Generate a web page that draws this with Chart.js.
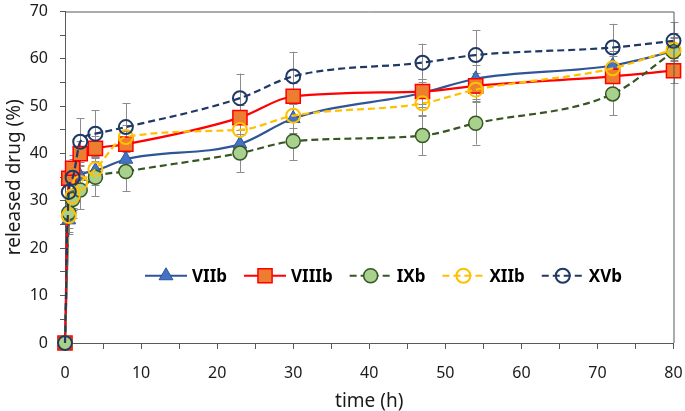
<!DOCTYPE html>
<html>
<head>
<meta charset="utf-8">
<script src="https://cdn.jsdelivr.net/npm/chart.js@4.4.1/dist/chart.umd.min.js"></script>
<style>
  html, body { margin: 0; padding: 0; background: #fff; }
  #wrap { width: 685px; height: 411px; }
</style>
</head>
<body>
<div id="wrap"><canvas id="releaseChart"></canvas></div>
<script>
// sampling times (h)
const timeH = [0, 0.5, 1, 2, 4, 8, 23, 30, 47, 54, 72, 80];

// released drug (%)
const releaseVIIb  = [0, 26.0, 31.0, 35.2, 36.4, 38.8, 42.0, 47.4, 52.8, 55.8, 58.6, 61.6];
const releaseVIIIb = [0, 34.8, 36.9, 40.0, 41.1, 42.0, 47.6, 52.1, 53.1, 54.3, 56.3, 57.5];
const releaseIXb   = [0, 27.5, 30.3, 32.3, 35.0, 36.2, 40.1, 42.6, 43.8, 46.4, 52.6, 61.5];
const releaseXIIb  = [0, 26.8, 31.0, 33.8, 36.7, 43.5, 45.0, 48.0, 50.6, 53.5, 58.0, 62.0];
const releaseXVb   = [0, 31.9, 34.9, 42.5, 44.2, 45.6, 51.7, 56.3, 59.2, 60.8, 62.4, 63.8];

// standard deviations (error bars)
const errVIIb  = [0, 3.0, 3.0, 3.0, 3.0, 3.0, 3.0, 3.0, 3.0, 3.0, 3.0, 3.0];
const errVIIIb = [0, 2.7, 2.7, 2.7, 2.7, 2.7, 2.7, 2.7, 2.7, 2.7, 2.7, 2.7];
const errIXb   = [0, 4.0, 4.0, 4.0, 4.0, 4.2, 4.0, 4.0, 4.2, 4.5, 4.5, 4.0];
const errXIIb  = [0, 2.5, 2.5, 2.5, 2.5, 2.5, 2.5, 2.5, 2.5, 2.5, 2.5, 2.5];
const errXVb   = [0, 3.0, 4.0, 5.0, 5.0, 5.0, 5.2, 5.2, 4.0, 5.3, 5.0, 4.0];

const seriesNames = ["VIIb", "VIIIb", "IXb", "XIIb", "XVb"];

const FONT = "'Noto Sans', sans-serif";
const AXIS_COLOR = "#595959";
const TEXT_COLOR = "#1a1a1a";

function toPoints(values) {
  return timeH.map(function (t, i) { return { x: t, y: values[i] }; });
}

function makeSeries(label, values, errs, style) {
  return Object.assign({
    label: label,
    data: toPoints(values),
    errors: errs,
    fill: false,
    clip: false,
    cubicInterpolationMode: "monotone",
    pointHoverRadius: 0,
  }, style);
}

const datasets = [
  makeSeries(seriesNames[0], releaseVIIb, errVIIb, {
    borderColor: "#2F5597", borderWidth: 2.2,
    pointStyle: "triangle", pointRadius: 8,
    pointBackgroundColor: "#4472C4", pointBorderColor: "#2F5597", pointBorderWidth: 1,
    order: 5,
  }),
  makeSeries(seriesNames[1], releaseVIIIb, errVIIIb, {
    borderColor: "#FF0000", borderWidth: 2.2,
    pointStyle: "rect", pointRadius: 10,
    pointBackgroundColor: "#ED7D31", pointBorderColor: "#FF0000", pointBorderWidth: 1.5,
    order: 4,
  }),
  makeSeries(seriesNames[2], releaseIXb, errIXb, {
    borderColor: "#375623", borderWidth: 2.2, borderDash: [7, 4],
    pointStyle: "circle", pointRadius: 7,
    pointBackgroundColor: "#A9D18E", pointBorderColor: "#375623", pointBorderWidth: 1.5,
    order: 3,
  }),
  makeSeries(seriesNames[3], releaseXIIb, errXIIb, {
    borderColor: "#FFC000", borderWidth: 2.2, borderDash: [7, 4],
    pointStyle: "circle", pointRadius: 7,
    pointBackgroundColor: "rgba(255,255,255,0)", pointBorderColor: "#FFC000", pointBorderWidth: 2,
    order: 2,
  }),
  makeSeries(seriesNames[4], releaseXVb, errXVb, {
    borderColor: "#1F3864", borderWidth: 2.2, borderDash: [7, 4],
    pointStyle: "circle", pointRadius: 7,
    pointBackgroundColor: "rgba(255,255,255,0)", pointBorderColor: "#1F3864", pointBorderWidth: 2,
    order: 1,
  }),
];

// gray error bars, drawn under the markers
const errorBarPlugin = {
  id: "errorBars",
  beforeDatasetsDraw: function (chart) {
    const ctx = chart.ctx;
    const xs = chart.scales.x;
    const ys = chart.scales.y;
    ctx.save();
    ctx.strokeStyle = "#8c8c8c";
    ctx.lineWidth = 1;
    chart.data.datasets.forEach(function (ds) {
      ds.data.forEach(function (p, i) {
        const e = ds.errors[i];
        if (!e) return;
        const px = Math.round(xs.getPixelForValue(p.x)) + 0.5;
        const top = ys.getPixelForValue(p.y + e);
        const bot = ys.getPixelForValue(p.y - e);
        ctx.beginPath();
        ctx.moveTo(px, top); ctx.lineTo(px, bot);
        ctx.moveTo(px - 4, Math.round(top) + 0.5); ctx.lineTo(px + 4, Math.round(top) + 0.5);
        ctx.moveTo(px - 4, Math.round(bot) + 0.5); ctx.lineTo(px + 4, Math.round(bot) + 0.5);
        ctx.stroke();
      });
    });
    ctx.restore();
  },
};

function drawMarker(ctx, ds, x, y) {
  const r = ds.pointRadius;
  ctx.save();
  ctx.setLineDash([]);
  ctx.fillStyle = ds.pointBackgroundColor;
  ctx.strokeStyle = ds.pointBorderColor;
  ctx.lineWidth = ds.pointBorderWidth;
  ctx.beginPath();
  if (ds.pointStyle === "circle") {
    ctx.arc(x, y, r, 0, Math.PI * 2);
  } else if (ds.pointStyle === "rect") {
    const s = r * Math.SQRT1_2;
    ctx.rect(x - s, y - s, 2 * s, 2 * s);
  } else {
    const w = r * Math.sqrt(3) / 2;
    ctx.moveTo(x, y - r);
    ctx.lineTo(x + w, y + r / 2);
    ctx.lineTo(x - w, y + r / 2);
    ctx.closePath();
  }
  ctx.fill();
  ctx.stroke();
  ctx.restore();
}

// frame + in-plot legend with line and marker samples
const framePlugin = {
  id: "frameLegend",
  afterDraw: function (chart) {
    const ctx = chart.ctx;
    const a = chart.chartArea;
    ctx.save();
    ctx.strokeStyle = AXIS_COLOR;
    ctx.lineWidth = 1;
    ctx.beginPath();
    ctx.moveTo(a.left, a.top + 0.5); ctx.lineTo(a.right + 0.5, a.top + 0.5);
    ctx.lineTo(a.right + 0.5, a.bottom);
    ctx.stroke();

    ctx.font = "bold 17px " + FONT;
    ctx.textBaseline = "middle";
    ctx.fillStyle = "#000";
    let x = a.left + 80;
    const y = chart.scales.y.getPixelForValue(14.2);
    chart.data.datasets.forEach(function (ds) {
      ctx.save();
      ctx.strokeStyle = ds.borderColor;
      ctx.lineWidth = ds.borderWidth;
      ctx.setLineDash(ds.borderDash || []);
      ctx.beginPath();
      ctx.moveTo(x, y); ctx.lineTo(x + 42, y);
      ctx.stroke();
      ctx.restore();
      drawMarker(ctx, ds, x + 21, y);
      ctx.fillText(ds.label, x + 47, y + 1);
      x += 47 + ctx.measureText(ds.label).width + 17;
    });
    ctx.restore();
  },
};

const tickFont = { family: FONT, size: 16 };
const titleFont = { family: FONT, size: 19 };

new Chart(document.getElementById("releaseChart"), {
  type: "line",
  data: { datasets: datasets },
  plugins: [errorBarPlugin, framePlugin],
  options: {
    responsive: true,
    maintainAspectRatio: false,
    animation: false,
    events: [],
    layout: { padding: { top: 7, right: 7, left: 0, bottom: 0 } },
    plugins: {
      legend: { display: false },
      tooltip: { enabled: false },
    },
    scales: {
      x: {
        type: "linear",
        min: 0,
        max: 80,
        afterFit: function (s) { s.height = 68; s.paddingLeft = 0; s.paddingRight = 0; },
        ticks: {
          stepSize: 5,
          autoSkip: false,
          maxRotation: 0,
          padding: 15,
          color: TEXT_COLOR,
          font: tickFont,
          callback: function (v) { return v % 10 === 0 ? v : ""; },
        },
        grid: { drawOnChartArea: false, tickLength: 6, color: AXIS_COLOR },
        border: { color: AXIS_COLOR, width: 1 },
        title: { display: true, text: "time (h)", color: TEXT_COLOR, font: titleFont, padding: { top: 0, bottom: -2 } },
      },
      y: {
        min: 0,
        max: 70,
        afterFit: function (s) { s.width = 65; s.paddingTop = 0; s.paddingBottom = 0; },
        ticks: {
          stepSize: 5,
          autoSkip: false,
          padding: 12,
          color: TEXT_COLOR,
          font: tickFont,
          callback: function (v) { return v % 10 === 0 ? v : ""; },
        },
        grid: { drawOnChartArea: false, tickLength: 5, color: AXIS_COLOR },
        border: { color: AXIS_COLOR, width: 1 },
        title: { display: true, text: "released drug (%)", color: TEXT_COLOR, font: titleFont, padding: { top: 3, bottom: 0 } },
      },
    },
  },
});
</script>
</body>
</html>
